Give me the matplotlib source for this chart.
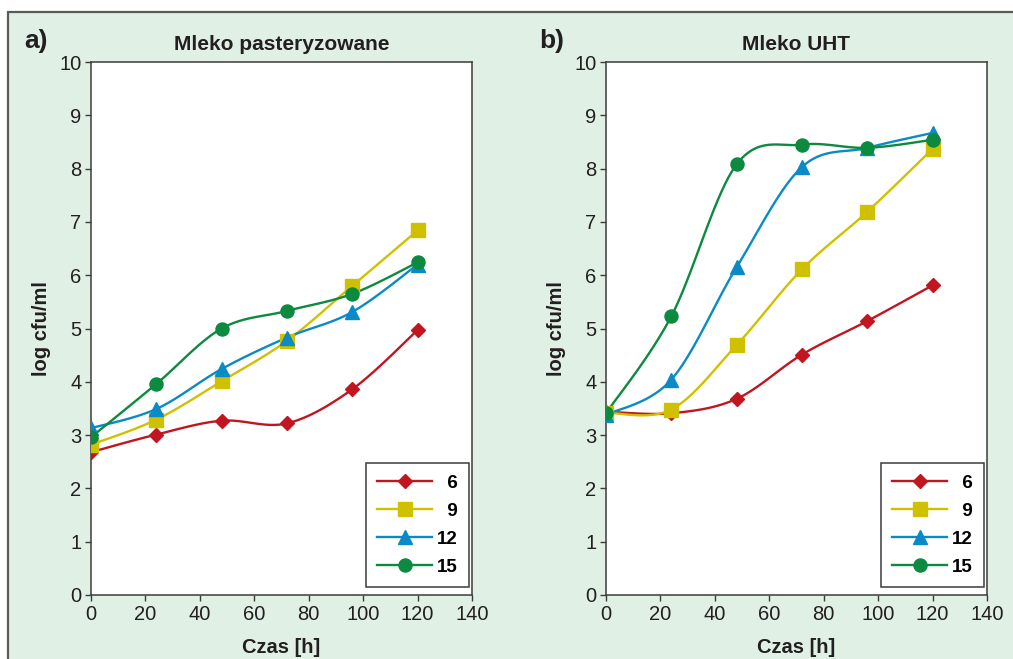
import numpy as np
import matplotlib
matplotlib.use("Agg")
import matplotlib.pyplot as plt
from matplotlib.patches import Rectangle

plt.rcParams['font.family'] = ['Liberation Sans', 'DejaVu Sans']

# czas inkubacji [h] i temperatury [st. C]
czas = [0, 24, 48, 72, 96, 120]
temperatury = ["6", "9", "12", "15"]

# a) mleko pasteryzowane, log cfu/ml
past_6 = [2.68, 3.01, 3.27, 3.22, 3.86, 4.97]
past_9 = [2.82, 3.29, 4.01, 4.77, 5.80, 6.84]
past_12 = [3.13, 3.49, 4.24, 4.83, 5.31, 6.20]
past_15 = [2.96, 3.96, 5.00, 5.33, 5.65, 6.24]

# b) mleko UHT, log cfu/ml
uht_6 = [3.44, 3.41, 3.68, 4.51, 5.14, 5.81]
uht_9 = [3.42, 3.48, 4.69, 6.11, 7.19, 8.37]
uht_12 = [3.38, 4.04, 6.15, 8.03, 8.39, 8.67]
uht_15 = [3.41, 5.23, 8.08, 8.45, 8.39, 8.54]

kolory = ['#c1161f', '#cfc000', '#0a8ac6', '#0b8a40']
markery = ['D', 's', '^', 'o']
rozmiary = [7.4, 9.6, 10.0, 9.4]


def wygladz(x, y, n=24):
	# linia wygladzona jak w Excelu (krzywe Beziera przez punkty)
	p = np.column_stack([x, y]).astype(float)
	p = np.vstack([p[0], p, p[-1]])
	t = np.linspace(0, 1, n)[:, None]
	out = [p[1:2]]
	for i in range(1, len(p) - 2):
		b0, b3 = p[i], p[i + 1]
		b1 = b0 + (p[i + 1] - p[i - 1]) / 6
		b2 = b3 - (p[i + 2] - p[i]) / 6
		seg = (1 - t) ** 3 * b0 + 3 * (1 - t) ** 2 * t * b1 + 3 * (1 - t) * t ** 2 * b2 + t ** 3 * b3
		out.append(seg[1:])
	out = np.vstack(out)
	return out[:, 0], out[:, 1]


fig = plt.figure(figsize=(10.13, 6.59), dpi=100)
fig.patch.set_facecolor('white')
fig.add_artist(Rectangle((8 / 1013, -0.05), 1.1, 1 - 12 / 659 + 0.05, transform=fig.transFigure,
	facecolor='#e1f0e5', edgecolor='#5a5a5a', linewidth=1.6, zorder=-10))

panele = [
	('a)', 'Mleko pasteryzowane', [past_6, past_9, past_12, past_15], 91),
	('b)', 'Mleko UHT', [uht_6, uht_9, uht_12, uht_15], 606),
]

for litera, tytul, serie, lewy in panele:
	ax = fig.add_axes([lewy / 1013, 1 - 595 / 659, 381 / 1013, 533 / 659])
	ax.set_facecolor('white')
	for y, kol, m, ms, et in zip(serie, kolory, markery, rozmiary, temperatury):
		xs, ys = wygladz(czas, y)
		ax.plot(xs, ys, color=kol, lw=1.7, zorder=2)
		ax.plot(czas, y, ls='none', marker=m, ms=ms, color=kol, mec=kol, zorder=3)
		ax.plot([], [], color=kol, lw=1.7, marker=m, ms=ms, mec=kol,
			label=('\u2007' + et) if len(et) == 1 else et)
	ax.set_xlim(0, 140)
	ax.set_ylim(0, 10)
	ax.set_xticks(range(0, 141, 20))
	ax.set_yticks(range(0, 11))
	for s in ax.spines.values():
		s.set_color('#3c3c3c')
		s.set_linewidth(1.1)
	ax.tick_params(direction='out', length=4, width=1, color='#3c3c3c',
		labelsize=14.5, labelcolor='#231f20', pad=3)
	ax.set_title(tytul, fontsize=15, fontweight='bold', color='#231f20', pad=9)
	ax.set_xlabel('Czas [h]', fontsize=14.5, fontweight='bold', color='#231f20')
	ax.set_ylabel('log cfu/ml', fontsize=14.5, fontweight='bold', color='#231f20')
	ax.xaxis.set_label_coords(0.5, -0.08)
	ax.yaxis.set_label_coords(-0.105, 0.5)
	leg = ax.legend(loc='lower right', bbox_to_anchor=(0.993, 0.015), borderaxespad=0,
		prop={'weight': 'bold', 'size': 13.5}, frameon=True, fancybox=False,
		edgecolor='#3c3c3c', framealpha=1, handlelength=2.9, handletextpad=0.3,
		labelspacing=0.58, borderpad=0.6)
	leg.get_frame().set_linewidth(1.1)
	fig.text((lewy - 67) / 1013, 1 - 41 / 659, litera, fontsize=19, fontweight='bold',
		color='#231f20', va='center')

plt.savefig('out.png', dpi=100)
